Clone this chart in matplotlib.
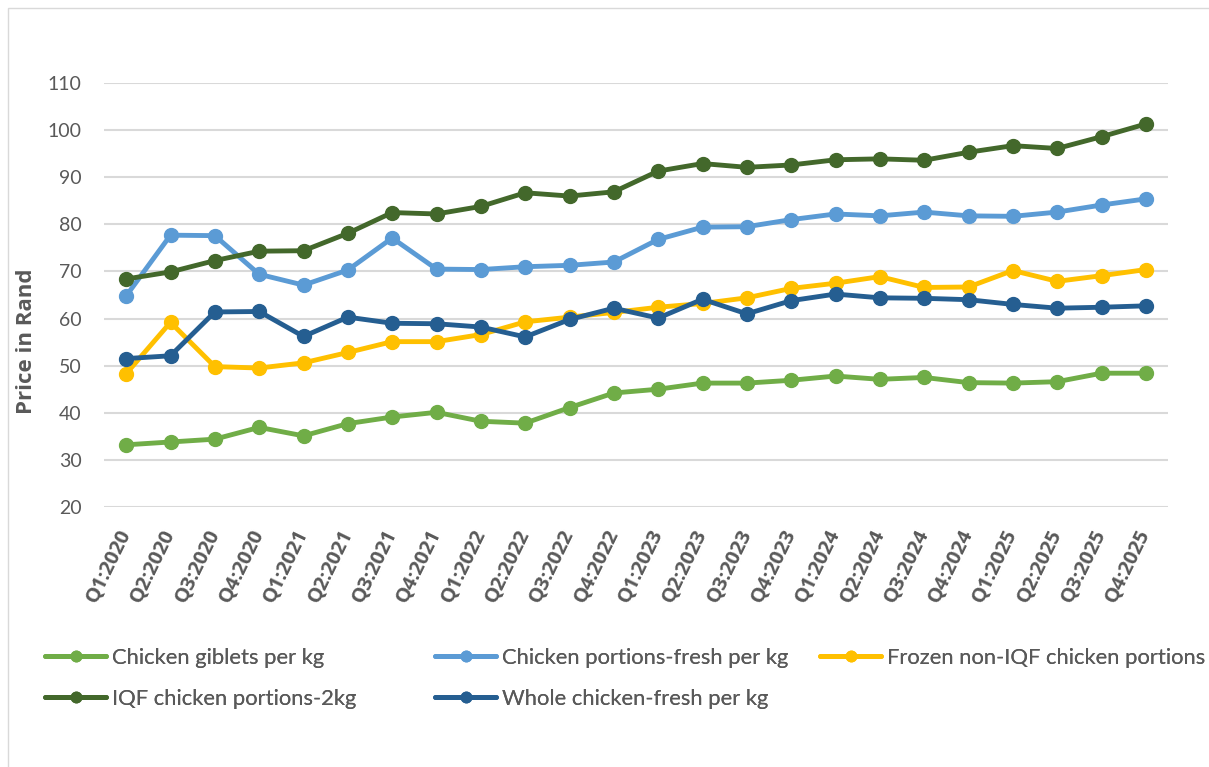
import matplotlib.pyplot as plt
from matplotlib.patches import Rectangle

quarters = [f"Q{q}:{y}" for y in range(2020, 2026) for q in range(1, 5)]

giblets = [33.2, 33.8, 34.4, 36.9, 35.1, 37.7, 39.1, 40.1, 38.2, 37.8, 41.1, 44.2,
           45.0, 46.3, 46.3, 46.9, 47.8, 47.1, 47.5, 46.4, 46.3, 46.6, 48.4, 48.4]
portions_fresh = [64.8, 77.7, 77.6, 69.4, 67.1, 70.3, 77.1, 70.5, 70.4, 71.0, 71.3, 72.0,
                  76.8, 79.4, 79.5, 81.0, 82.2, 81.8, 82.6, 81.8, 81.7, 82.6, 84.1, 85.4]
frozen_non_iqf = [48.3, 59.2, 49.8, 49.5, 50.6, 52.8, 55.1, 55.1, 56.6, 59.3, 60.3, 61.3,
                  62.4, 63.2, 64.4, 66.4, 67.5, 68.9, 66.6, 66.7, 70.2, 67.9, 69.1, 70.4]
iqf_2kg = [68.4, 69.9, 72.3, 74.3, 74.4, 78.1, 82.5, 82.2, 83.8, 86.7, 86.0, 86.9,
           91.3, 92.9, 92.1, 92.6, 93.7, 93.9, 93.6, 95.3, 96.7, 96.1, 98.6, 101.3]
whole_fresh = [51.5, 52.1, 61.4, 61.5, 56.2, 60.3, 59.0, 58.9, 58.2, 56.1, 59.8, 62.2,
               60.1, 64.1, 61.0, 63.8, 65.2, 64.4, 64.3, 64.0, 63.0, 62.2, 62.4, 62.7]

series = [
    ("Chicken giblets per kg", giblets, "#70AD47"),
    ("Chicken portions-fresh per kg", portions_fresh, "#5B9BD5"),
    ("Frozen non-IQF chicken portions", frozen_non_iqf, "#FFC000"),
    ("IQF chicken portions-2kg", iqf_2kg, "#43682B"),
    ("Whole chicken-fresh per kg", whole_fresh, "#255E91"),
]

plt.rcParams['font.family'] = ['Lato', 'DejaVu Sans']
text_col = "#595959"
bold_font = ['Open Sans', 'DejaVu Sans']

fig = plt.figure(figsize=(12.09, 7.67), dpi=100)
ax = fig.add_axes([104 / 1209, 1 - 507 / 767, (1168 - 104) / 1209, (507 - 83) / 767])

x = list(range(len(quarters)))
lines = {}
for name, vals, col in series:
    ln, = ax.plot(x, vals, color=col, lw=3.5, marker='o', markersize=10,
                  solid_capstyle='round', label=name)
    lines[name] = ln

ax.set_xlim(-0.5, len(quarters) - 0.5)
ax.set_ylim(20, 110)
ax.set_yticks(range(20, 111, 10))
ax.yaxis.grid(True, color="#D9D9D9", lw=1.5)
ax.set_axisbelow(True)
for s in ax.spines.values():
    s.set_visible(False)
ax.tick_params(length=0)
ax.tick_params(axis='y', labelsize=14, labelcolor=text_col, pad=16)
ax.set_xticks(x)
ax.set_xticklabels(quarters, rotation=64, ha='right', va='center',
                   rotation_mode='anchor', fontsize=14.5, color=text_col,
                   fontweight='bold', family=bold_font)
ax.tick_params(axis='x', pad=17)
ax.set_ylabel("Price in Rand", fontsize=16, fontweight='bold', color=text_col,
              family=bold_font)
ax.yaxis.set_label_coords(-67 / 1064, (507 - 341) / 424)

# legend: three columns placed where the reference has them
columns = [
    (45, ["Chicken giblets per kg", "IQF chicken portions-2kg"]),
    (435, ["Chicken portions-fresh per kg", "Whole chicken-fresh per kg"]),
    (820, ["Frozen non-IQF chicken portions"]),
]
for xpos, names in columns:
    leg = fig.legend([lines[n] for n in names], names, loc='upper left',
                     bbox_to_anchor=(xpos / 1209, 1 - 648 / 767), frameon=False,
                     fontsize=15.8, labelcolor=text_col, handlelength=2.8,
                     handletextpad=0.25, labelspacing=0.95, markerscale=0.75,
                     borderaxespad=0, borderpad=0)
    fig.add_artist(leg)

fig.patches.append(Rectangle((8 / 1209, -0.01), 1.02, 1 - 8 / 767 + 0.01,
                             transform=fig.transFigure, fill=False,
                             edgecolor="#D9D9D9", lw=1))

fig.savefig("out.png", dpi=100)
